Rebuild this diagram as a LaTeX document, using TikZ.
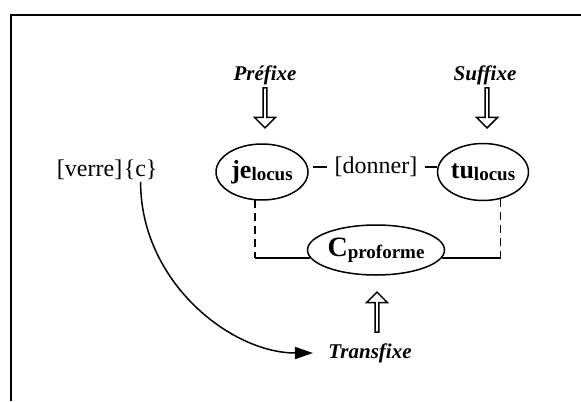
\documentclass[tikz,border=0pt]{standalone}
\usepackage{fontspec}
\setmainfont{Liberation Serif}
\usepackage{tikz}
\usetikzlibrary{shapes.geometric,shapes.arrows,arrows.meta}
\newcommand\locsub[3]{\textbf{{\fontsize{#3}{#3}\selectfont #1}\raisebox{-1pt}{\fontsize{9.5}{10}\selectfont #2}}}

\begin{document}
\begin{tikzpicture}[x=0.5pt,y=-0.5pt,line width=0.75pt,
   font=\fontsize{12}{14}\selectfont,
   loc/.style n args={2}{ellipse,draw,inner sep=0pt,minimum width=#1,minimum height=#2},
   aff/.style={font=\fontsize{10.5}{12}\selectfont\bfseries\itshape},
   fx/.style={single arrow,draw,inner sep=0pt,minimum height=20pt,minimum width=10.5pt,
      single arrow head extend=1.75pt,shape border rotate=#1},
   dsh/.style={dash pattern=on 4pt off 2.5pt}]
\useasboundingbox (0,0) rectangle (581,401);
\draw[line width=1.2pt] (581,15) -- (11,15) -- (11,401);
% affixes
\node[aff] (pre) at (265,75) {Préfixe};
\node[fx=270] (pa) at (265,107) {};
\node[aff] (suf) at (485,75) {Suffixe};
\node[fx=270] (sa) at (487,107) {};
\node[aff] (tf) at (370,353) {Transfixe};
\node[fx=90] (ta) at (377,313) {};
% loci
\node[loc={46pt}{28pt}] (je) at (262,172) {\locsub{je}{locus}{13}};
\node[loc={42pt}{28.5pt}] (tu) at (483,172) {\locsub{tu}{locus}{13}};
\node[loc={64pt}{25pt}] (cp) at (376,250) {\locsub{C}{proforme}{14}};
\node (don) at (376,167) {[donner]};
\node[anchor=base east,inner xsep=0pt,inner ysep=1pt] (verre) at (123,176) {[verre]};
\node[anchor=base west,inner xsep=0pt,inner ysep=1pt] (cvar) at (verre.base east) {\{c\}};
% links
\draw[shorten <=2pt] (je.east |- don.west) -- (don.west);
\draw (don.east) -- (tu.west |- don.east);
\coordinate (jd) at (je.-104);
\coordinate (td) at (tu.-57);
\coordinate (jc) at (jd |- cp.187);
\coordinate (tc) at (td |- cp.-7);
\draw[dsh] (jd) -- (jc);
\draw (jc) -- (cp.187);
\draw[dsh] (td) -- (tc);
\draw (tc) -- (cp.-7);
\draw[-{Triangle[length=9pt,width=6pt]},shorten >=4pt] (cvar.south)
   .. controls +(0,100) and +(-90,0) .. (tf.west);
\end{tikzpicture}
\end{document}
